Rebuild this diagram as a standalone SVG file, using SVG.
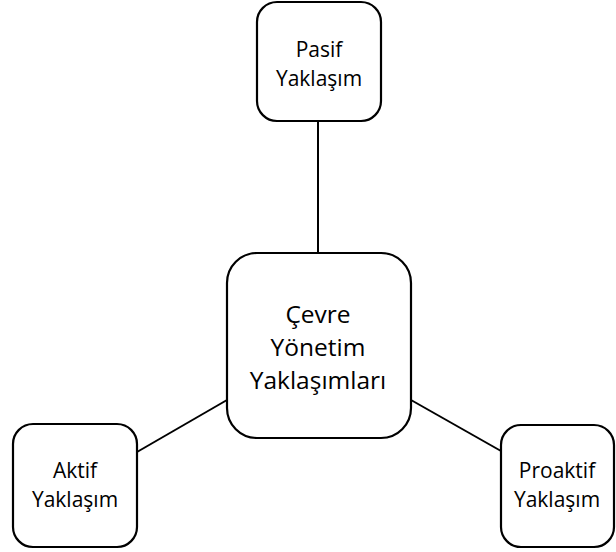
<svg xmlns="http://www.w3.org/2000/svg" width="616" height="552" viewBox="0 0 616 552">
  <style>
    .box { fill: #ffffff; stroke: #000000; stroke-width: 2.2; }
    .link { stroke: #000000; stroke-width: 2; fill: none; }
    .lbl { font-family: "Open Sans", "Liberation Sans", sans-serif; font-size: 21px; fill: #000000; text-anchor: middle; }
    .big { font-size: 24.5px; }
  </style>
  <rect width="616" height="552" fill="#ffffff"/>
  <g id="connectors">
    <line class="link" x1="318" y1="121" x2="318" y2="253"/>
    <line class="link" x1="137" y1="452" x2="227" y2="400"/>
    <line class="link" x1="411" y1="400" x2="501" y2="451"/>
  </g>
  <g id="center">
    <rect class="box" x="227" y="253" width="184" height="185" rx="30" ry="30"/>
    <text class="lbl big" x="318" y="323">Çevre</text>
    <text class="lbl big" x="318" y="356">Yönetim</text>
    <text class="lbl big" x="318" y="389">Yaklaşımları</text>
  </g>
  <g id="pasif">
    <rect class="box" x="257" y="2" width="124" height="119" rx="20" ry="20"/>
    <text class="lbl" x="319" y="57">Pasif</text>
    <text class="lbl" x="319" y="86">Yaklaşım</text>
  </g>
  <g id="aktif">
    <rect class="box" x="13" y="424" width="124" height="123" rx="20" ry="20"/>
    <text class="lbl" x="75" y="478">Aktif</text>
    <text class="lbl" x="75" y="507">Yaklaşım</text>
  </g>
  <g id="proaktif">
    <rect class="box" x="501" y="425" width="113" height="122" rx="20" ry="20"/>
    <text class="lbl" x="557" y="478">Proaktif</text>
    <text class="lbl" x="557" y="507">Yaklaşım</text>
  </g>
</svg>
